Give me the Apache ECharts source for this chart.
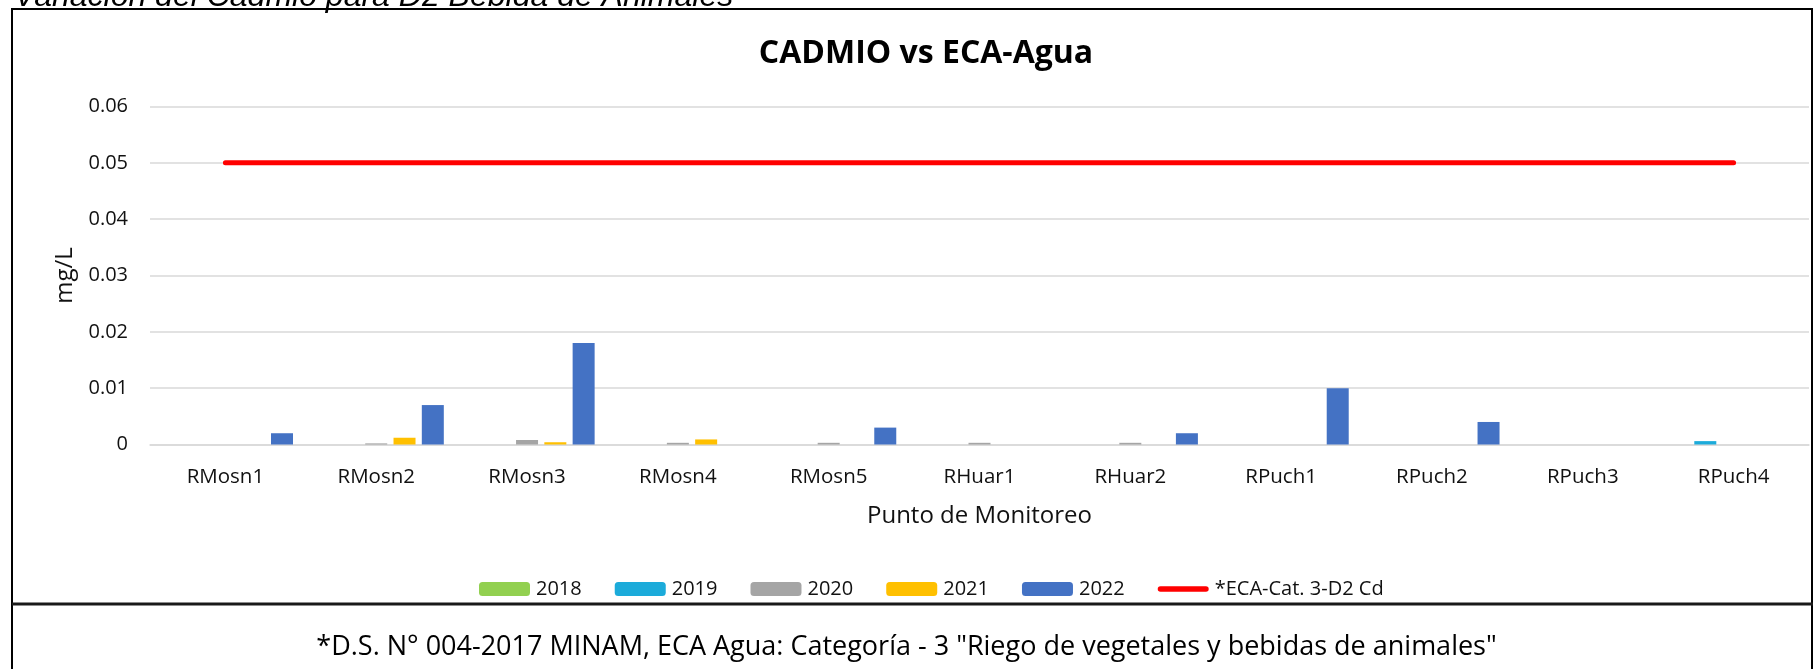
<!DOCTYPE html>
<html>
<head>
<meta charset="utf-8">
<script src="https://cdn.jsdelivr.net/npm/echarts@6/dist/echarts.min.js"></script>
<style>
  html, body { margin: 0; padding: 0; background: #fff; }
  #main { width: 1813px; height: 669px; }
</style>
</head>
<body>
<div id="main"></div>
<script>
'use strict'

// monitoring points
const puntos = ['RMosn1', 'RMosn2', 'RMosn3', 'RMosn4', 'RMosn5', 'RHuar1', 'RHuar2', 'RPuch1', 'RPuch2', 'RPuch3', 'RPuch4'];

// cadmium values per year (mg/L), 0 = not drawn
const cd2018 = [0, 0, 0, 0, 0, 0, 0, 0, 0, 0, 0];
const cd2019 = [0, 0, 0, 0, 0, 0, 0, 0, 0, 0, 0.0006];
const cd2020 = [0, 0.0002, 0.0008, 0.0003, 0.0003, 0.0003, 0.0003, 0, 0, 0, 0];
const cd2021 = [0, 0.0012, 0.0004, 0.0009, 0, 0, 0, 0, 0, 0, 0];
const cd2022 = [0.002, 0.007, 0.018, 0, 0.003, 0, 0.002, 0.01, 0.004, 0, 0];

// ECA limit
const ecaD2 = [0.05, 0.05, 0.05, 0.05, 0.05, 0.05, 0.05, 0.05, 0.05, 0.05, 0.05];

// y axis ticks
const yMin = 0;
const yMax = 0.06;
const yStep = 0.01;

var myChart = echarts.init(document.getElementById('main'));

const font = '"Open Sans", sans-serif';
const txt = '#111';

function barSerie(name, values, color) {
  return {
    name: name,
    type: 'bar',
    data: values,
    barWidth: 22,
    barGap: '28.6%',
    itemStyle: { color: color },
    emphasis: { disabled: true }
  };
}

var option = {
  animation: false,
  backgroundColor: '#fff',
  textStyle: { fontFamily: font },
  title: {
    text: 'CADMIO vs ECA-Agua',
    left: 921,
    textAlign: 'center',
    top: 33,
    textStyle: { fontFamily: font, fontSize: 32, fontWeight: 'bold', color: '#000' }
  },
  legend: {
    left: 474,
    top: 574,
    itemWidth: 51,
    itemHeight: 14,
    itemGap: 33,
    textStyle: { fontFamily: font, fontSize: 20, color: txt, padding: [0, 0, 0, 1] },
    data: [
      '2018', '2019', '2020', '2021', '2022',
      // plain red bar as icon, no dot
      { name: '*ECA-Cat. 3-D2 Cd', icon: 'path://M3,0 H52 A3,3 0 0 1 52,6 H3 A3,3 0 0 1 3,0 Z' }
    ]
  },
  grid: { left: 150, right: 4, top: 106.5, bottom: 224.5 },
  xAxis: {
    type: 'category',
    data: puntos,
    name: 'Punto de Monitoreo',
    nameLocation: 'middle',
    nameGap: 60,
    nameTextStyle: { fontFamily: font, fontSize: 24, color: txt },
    axisLine: { lineStyle: { color: '#d9d9d9', width: 1.5 } },
    axisTick: { show: false },
    axisLabel: { interval: 0, margin: 22, fontFamily: font, fontSize: 20.5, color: txt }
  },
  yAxis: {
    type: 'value',
    min: yMin,
    max: yMax,
    interval: yStep,
    name: 'mg/L',
    nameLocation: 'middle',
    nameGap: 72,
    nameTextStyle: { fontFamily: font, fontSize: 24, color: txt },
    axisLine: { show: false },
    axisTick: { show: false },
    splitLine: { lineStyle: { color: '#d9d9d9', width: 1.5 } },
    axisLabel: {
      margin: 22,
      fontFamily: font,
      fontSize: 20,
      color: txt,
      formatter: function (v) { return v === 0 ? '0' : v.toFixed(2); }
    }
  },
  series: [
    barSerie('2018', cd2018, '#92D050'),
    barSerie('2019', cd2019, '#1CABDA'),
    barSerie('2020', cd2020, '#A5A5A5'),
    barSerie('2021', cd2021, '#FFC000'),
    barSerie('2022', cd2022, '#4472C4'),
    {
      name: '*ECA-Cat. 3-D2 Cd',
      type: 'line',
      data: ecaD2,
      symbol: 'none',
      itemStyle: { color: '#FF0000' },
      lineStyle: { color: '#FF0000', width: 5, cap: 'round' },
      emphasis: { disabled: true },
      z: 5
    }
  ],
  graphic: [
    // caption above the frame (cut at the top of the picture)
    {
      type: 'text',
      left: 14,
      top: -19,
      style: {
        text: 'Variación del Cadmio para D2 Bebida de Animales',
        font: 'italic 32px "Liberation Sans", sans-serif',
        fill: '#000'
      },
      z: 10
    },
    // outer frame
    {
      type: 'polyline',
      shape: { points: [[12, 669], [12, 9], [1812, 9], [1812, 669]] },
      style: { stroke: '#000', lineWidth: 2, fill: null },
      z: 10
    },
    // separator between chart and note
    {
      type: 'line',
      shape: { x1: 12, y1: 604, x2: 1813, y2: 604 },
      style: { stroke: '#1a1a1a', lineWidth: 3 },
      z: 10
    },
    {
      type: 'text',
      left: 'center',
      top: 634,
      style: {
        text: '*D.S. N° 004-2017 MINAM, ECA Agua: Categoría - 3 "Riego de vegetales y bebidas de animales"',
        font: '27px "Open Sans", sans-serif',
        fill: '#000'
      },
      z: 10
    }
  ]
};

myChart.setOption(option);
</script>
</body>
</html>
